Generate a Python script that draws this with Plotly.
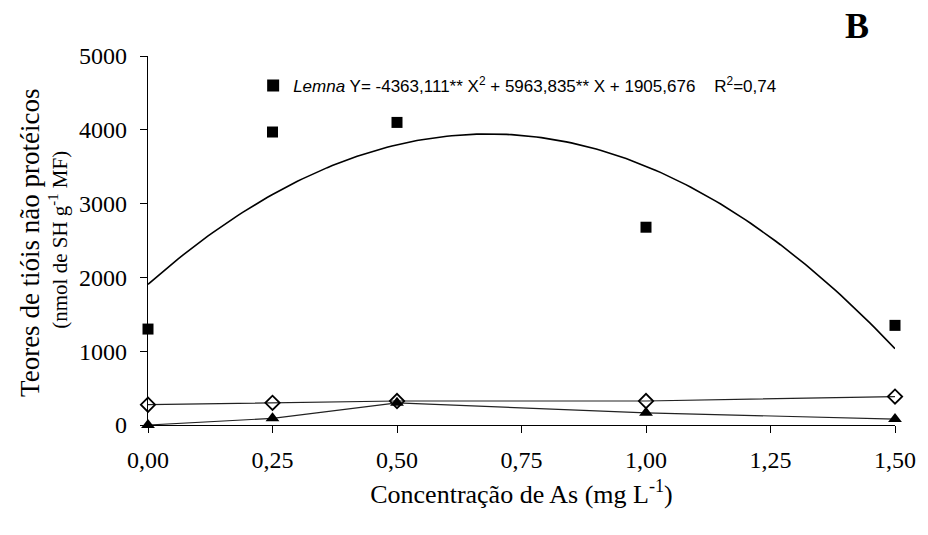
import numpy as np
import plotly.graph_objects as go

# Arsenic concentration (mg L-1)
conc = [0.0, 0.25, 0.50, 1.00, 1.50]

# Non-protein thiols (nmol SH g-1 FW)
lemna = [1300, 3970, 4100, 2680, 1350]
diamond_series = [275, 300, 325, 325, 385]
triangle_series = [0, 90, 300, 165, 80]

# Quadratic fit coefficients for Lemna
a2, a1, a0 = -4363.111, 5963.835, 1905.676

x_fit = np.linspace(0, 1.5, 151)
y_fit = a2 * x_fit**2 + a1 * x_fit + a0

serif = "Liberation Serif, Times New Roman, serif"
sans = "Liberation Sans, Arial, sans-serif"

W, H = 928, 535
ML, MR, MT, MB = 148, 27, 56, 110
PW, PH = W - ML - MR, H - MT - MB


def px_x(px):
    return (px - ML) / PW


def px_y(py):
    return (H - MB - py) / PH


fig = go.Figure()

fig.add_trace(go.Scatter(
    x=x_fit, y=y_fit, mode="lines",
    line=dict(color="black", width=1.6),
    showlegend=False, hoverinfo="skip", cliponaxis=False,
))
fig.add_trace(go.Scatter(
    x=conc, y=diamond_series, mode="lines+markers",
    line=dict(color="#222", width=1.2),
    marker=dict(symbol="diamond-open", size=11, color="black", line=dict(width=1.8)),
    showlegend=False, cliponaxis=False,
))
fig.add_trace(go.Scatter(
    x=conc, y=triangle_series, mode="lines+markers",
    line=dict(color="#222", width=1.2),
    marker=dict(symbol="triangle-up", size=12, color="black"),
    showlegend=False, cliponaxis=False,
))
fig.add_trace(go.Scatter(
    x=conc, y=lemna, mode="markers",
    marker=dict(symbol="square", size=11, color="black"),
    name="<i>Lemna</i> Y= -4363,111** X<sup>2</sup> + 5963,835** X + 1905,676    R<sup>2</sup>=0,74",
    showlegend=True, cliponaxis=False,
))

fig.update_layout(
    width=W, height=H,
    margin=dict(l=ML, r=MR, t=MT, b=MB),
    paper_bgcolor="white", plot_bgcolor="white",
    separators=",.",
    showlegend=True,
    legend=dict(
        x=px_x(254), y=px_y(86), xanchor="left", yanchor="middle",
        font=dict(family=sans, size=17, color="black"),
        bgcolor="rgba(0,0,0,0)", itemwidth=30,
        itemsizing="constant",
    ),
    xaxis=dict(
        range=[0, 1.5], tickvals=[0, 0.25, 0.5, 0.75, 1.0, 1.25, 1.5],
        tickformat=".2f",
        showline=True, linecolor="black", linewidth=1.3,
        ticks="outside", ticklen=7, tickcolor="black", tickwidth=1,
        showgrid=False, zeroline=False,
        tickfont=dict(family=serif, size=24, color="black"),
        ticklabelstandoff=6,
        title=dict(text="Concentração de As (mg L<sup>-1</sup>)",
                   font=dict(family=serif, size=26, color="black"), standoff=12),
    ),
    yaxis=dict(
        range=[0, 5000], tickvals=[0, 1000, 2000, 3000, 4000, 5000],
        showline=True, linecolor="black", linewidth=1.3,
        ticks="outside", ticklen=7, tickcolor="black", tickwidth=1,
        showgrid=False, zeroline=False,
        tickfont=dict(family=serif, size=24, color="black"),
        ticklabelstandoff=8,
    ),
    annotations=[
        dict(text="Teores de tióis não protéicos", textangle=-90,
             x=px_x(29), y=px_y(242), xref="paper", yref="paper",
             xanchor="center", yanchor="middle", showarrow=False,
             font=dict(family=serif, size=27, color="black")),
        dict(text="(nmol de SH g<sup>-1</sup> MF)", textangle=-90,
             x=px_x(57), y=px_y(240), xref="paper", yref="paper",
             xanchor="center", yanchor="middle", showarrow=False,
             font=dict(family=serif, size=21, color="black")),
        dict(text="<b>B</b>", x=px_x(863), y=px_y(26), xref="paper", yref="paper",
             xanchor="center", yanchor="middle", showarrow=False,
             font=dict(family=serif, size=36, color="black")),
    ],
)

fig.write_html("out.html")
